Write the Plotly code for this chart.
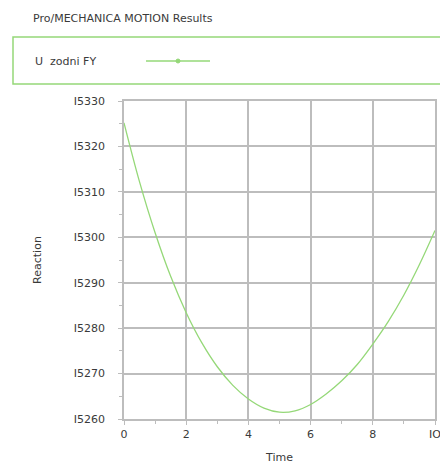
import plotly.graph_objects as go

# Data
time = [0.0, 0.5, 1.0, 1.5, 2.0, 2.5, 3.0, 3.5, 4.0, 4.5, 5.0,
        5.5, 6.0, 6.5, 7.0, 7.5, 8.0, 8.5, 9.0, 9.5, 10.0]
reaction = [15325.2, 15312.2, 15301.0, 15291.4, 15283.4, 15276.8, 15271.5,
            15267.4, 15264.4, 15262.4, 15261.5, 15261.8, 15263.2, 15265.5,
            15268.4, 15272.0, 15276.5, 15281.5, 15287.3, 15294.0, 15301.5]
series_name = "U  zodni FY"
x_ticks = [0, 2, 4, 6, 8, 10]
x_tick_labels = ["0", "2", "4", "6", "8", "IO"]
y_ticks = [15260, 15270, 15280, 15290, 15300, 15310, 15320, 15330]
y_tick_labels = ["I5260", "I5270", "I5280", "I5290", "I5300", "I5310", "I5320", "I5330"]

# The page body has an 8px margin, so the figure is shifted by 8px
OFF = 8
W, H = 448 - 2 * OFF, 467 - OFF
PLOT_L, PLOT_R, PLOT_T, PLOT_B = 124, 435, 101, 419   # page pixels
L = PLOT_L - OFF
R = W - (PLOT_R - OFF)
T = PLOT_T - OFF
B = H - (PLOT_B - OFF)
pw = W - L - R
ph = H - T - B

def px(x):  # x in page pixels -> paper
    return (x - OFF - L) / pw

def py(y):  # y in page pixels -> paper
    return (H - B - (y - OFF)) / ph

GREEN = "#95d878"
GRID = "#bdbdbd"
TXT = "#3a3a3a"
FONT = "DejaVu Sans, Verdana, sans-serif"

fig = go.Figure()
fig.add_trace(go.Scatter(x=time, y=reaction, mode="lines", name=series_name,
                         line=dict(color=GREEN, width=1.3, shape="spline", smoothing=1.0),
                         showlegend=False))

axis_common = dict(showgrid=True, gridcolor=GRID, gridwidth=1.5,
                   showline=True, linecolor=GRID, linewidth=1.5, mirror=True,
                   ticks="outside", ticklen=4, tickcolor=GRID, tickwidth=1.2,
                   zeroline=False, automargin=False, ticklabeloverflow="allow",
                   tickfont=dict(size=11, color=TXT, family=FONT),
                   minor=dict(ticks="outside", ticklen=3, tickcolor=GRID, showgrid=False))

fig.update_xaxes(range=[0, 10], tickvals=x_ticks, ticktext=x_tick_labels,
                 minor_dtick=1, minor_tick0=0,
                 title=dict(text="Time", font=dict(size=11, color=TXT, family=FONT), standoff=13),
                 **axis_common)
fig.update_yaxes(range=[15260, 15330], tickvals=y_ticks, ticktext=y_tick_labels,
                 minor_dtick=5, minor_tick0=15260, ticklabelstandoff=11,
                 title=dict(text="Reaction", font=dict(size=11, color=TXT, family=FONT), standoff=30),
                 **axis_common)

shapes = [
    dict(type="rect", xref="paper", yref="paper", x0=px(13), x1=px(470),
         y0=py(84), y1=py(37), line=dict(color=GREEN, width=1.5), fillcolor="rgba(0,0,0,0)"),
    dict(type="line", xref="paper", yref="paper", x0=px(146), x1=px(210),
         y0=py(61), y1=py(61), line=dict(color=GREEN, width=1.5)),
    dict(type="circle", xref="paper", yref="paper", x0=px(176), x1=px(180),
         y0=py(63), y1=py(59), line=dict(color=GREEN, width=1), fillcolor=GREEN),
]

annotations = [
    dict(text=series_name, xref="paper", yref="paper", x=px(33), y=py(61),
         xanchor="left", yanchor="middle", showarrow=False,
         font=dict(size=11, color=TXT, family=FONT)),
]

fig.update_layout(
    width=W, height=H,
    margin=dict(l=L, r=R, t=T, b=B, autoexpand=False),
    paper_bgcolor="white", plot_bgcolor="white",
    title=dict(text="Pro/MECHANICA MOTION Results", xref="container", yref="container",
               x=(33 - OFF) / W, y=1 - (18 - OFF) / H, xanchor="left", yanchor="middle",
               font=dict(size=11, color=TXT, family=FONT)),
    shapes=shapes, annotations=annotations,
    showlegend=False,
)

fig.write_html("out.html")
